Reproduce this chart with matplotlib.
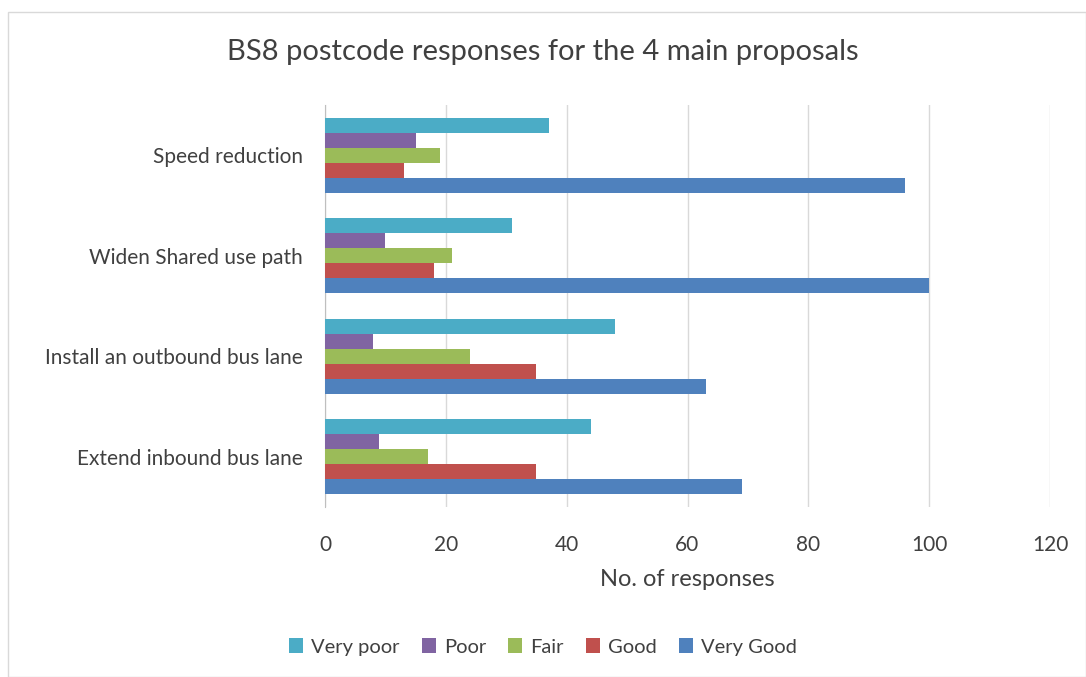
import matplotlib
matplotlib.use('Agg')
from matplotlib import pyplot as plt
from matplotlib.patches import Rectangle
import numpy as np

plt.rcParams['font.family'] = ['Lato', 'DejaVu Sans']

proposals = ['Extend inbound bus lane', 'Install an outbound bus lane',
             'Widen Shared use path', 'Speed reduction']
ratings = ['Very poor', 'Poor', 'Fair', 'Good', 'Very Good']
colors = ['#4BACC6', '#8064A2', '#9BBB59', '#C0504D', '#4F81BD']

very_poor = [44, 48, 31, 37]
poor = [9, 8, 10, 15]
fair = [17, 24, 21, 19]
good = [35, 35, 18, 13]
very_good = [69, 63, 100, 96]
series = [very_poor, poor, fair, good, very_good]

fig = plt.figure(figsize=(10.86, 6.77), dpi=100)
ax = fig.add_axes([325 / 1086, 1 - 507 / 677, (1050 - 325) / 1086, (507 - 105) / 677])

y = np.arange(len(proposals))
h = 0.15
for i, (name, vals) in enumerate(zip(ratings, series)):
    ax.barh(y + (2 - i) * h, vals, h, color=colors[i], label=name, zorder=3)

ax.set_xlim(0, 120)
ax.set_xticks(range(0, 121, 20))
ax.set_ylim(-0.5, 3.5)
ax.set_yticks(y)
ax.set_yticklabels(proposals, fontsize=16)
ax.grid(axis='x', color='#D9D9D9', linewidth=1, zorder=0)
for s in ['top', 'right', 'bottom']:
    ax.spines[s].set_visible(False)
ax.spines['left'].set_color('#BFBFBF')
ax.tick_params(length=0, labelsize=15, colors='#404040')
ax.tick_params(axis='y', pad=16)
ax.tick_params(axis='x', pad=20)
ax.set_xlabel('No. of responses', fontsize=17, color='#404040', labelpad=10)

fig.text(0.5, 1 - 52 / 677, 'BS8 postcode responses for the 4 main proposals',
         ha='center', va='center', fontsize=21, color='#404040')

handles, labels = ax.get_legend_handles_labels()
fig.legend(handles, labels, loc='center', bbox_to_anchor=(0.5, 1 - 647 / 677),
           ncol=5, frameon=False, fontsize=14.5, handlelength=0.7, handleheight=0.7,
           columnspacing=1.1, handletextpad=0.4, labelcolor='#404040')

fig.patches.append(Rectangle((8 / 1086, 0), 1 - 8 / 1086, 1 - 12 / 677,
                             transform=fig.transFigure, fill=False,
                             edgecolor='#D9D9D9', linewidth=1))

fig.savefig('out.png', dpi=100)
